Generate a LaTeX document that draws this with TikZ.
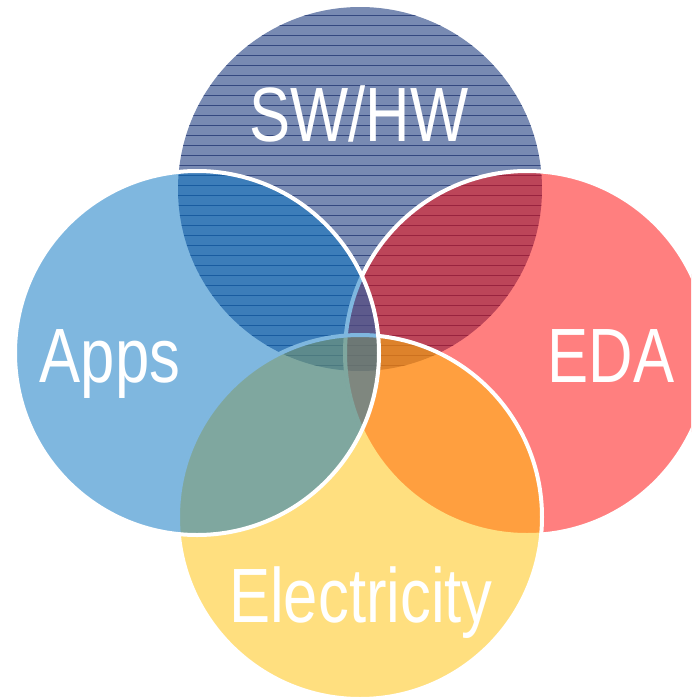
\documentclass[tikz,border=0pt]{standalone}
\usepackage{fontspec}
\setmainfont{Liberation Sans}[FakeStretch=0.8]
\definecolor{swhw}{RGB}{30,60,127}
\definecolor{swline}{RGB}{40,62,120}
\definecolor{apps}{RGB}{0,112,192}
\definecolor{eda}{RGB}{255,0,0}
\definecolor{elec}{RGB}{255,192,0}
\begin{document}
\begin{tikzpicture}[x=1pt,y=-1pt,
  ring/.style={draw=white,line width=4pt,fill opacity=0.5},
  ringtext/.style={text=white,font=\fontsize{77}{77}\selectfont,anchor=base,inner sep=0pt}]
\useasboundingbox (0,0) rectangle (691,699);
\clip (0,0) rectangle (691,699);
% circle centres
\coordinate (T) at (360,189);
\coordinate (L) at (197,353);
\coordinate (R) at (527,353);
\coordinate (B) at (360,517);
% SW/HW: tinted disc with horizontal rules
\fill[swhw,fill opacity=0.6] (T) circle (182);
\begin{scope}
  \clip (T) circle (182);
  \foreach \yy in {5,15,...,375}
    \draw[swline,line width=0.9pt,opacity=0.85] (170,\yy) -- (550,\yy);
\end{scope}
% the other three discs, stacked
\path[ring,fill=eda] (R) circle (182);
\path[ring,fill=elec] (B) circle (182);
\path[ring,fill=apps] (L) circle (182);
% titles
\node[ringtext] (tsw) at (359,141) {SW/HW};
\node[ringtext] (tapps) at (110,382) {Apps};
\node[ringtext] (teda) at (611,382) {EDA};
\node[ringtext] (telec) at (361,622) {Electricity};
\end{tikzpicture}
\end{document}
